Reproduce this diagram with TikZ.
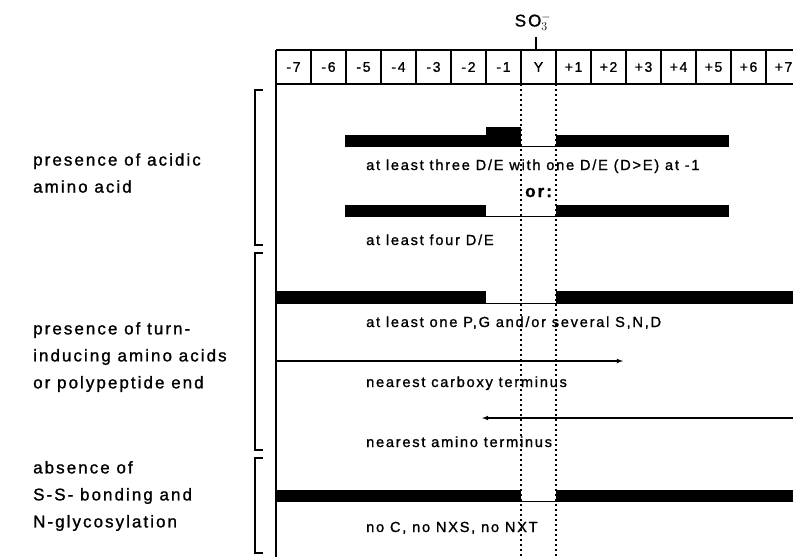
\documentclass[tikz,border=0pt]{standalone}
\usepackage{fontspec}
\setmainfont{Liberation Sans}
\newfontfamily\scanfont[LetterSpace=12,FakeBold=1.2]{Liberation Sans}

\begin{document}
\begin{tikzpicture}[x=1pt,y=-1pt]
    % Khung hình (toạ độ theo pixel)
    \useasboundingbox (0,0) rectangle (793,557);
    \clip (0,0) rectangle (793,557);

    % Kiểu nét
    \tikzset{
        c_frame/.style={line width=1.5pt},
        c_bar/.style={fill=black, draw=none},
        c_gap/.style={line width=1pt},
        c_dot/.style={line width=1.8pt, dash pattern=on 1.8pt off 3.2pt},
        c_arrow/.style={line width=1.1pt, -latex},
        c_txt/.style={font=\scanfont\fontsize{14.6}{16}\selectfont, anchor=base west, inner sep=0pt},
        c_lbl/.style={font=\scanfont\fontsize{17}{27}\selectfont, align=left, anchor=west, inner sep=0pt},
        c_cell/.style={font=\scanfont\fontsize{14}{14}\selectfont, inner sep=0pt}
    }

    % Hai cột chấm của vị trí Y
    \coordinate (YL) at (521,84);
    \coordinate (YR) at (556,84);
    \coordinate (YL_end) at (521,557);
    \coordinate (YR_end) at (556,557);

    % Hàng tiêu đề vị trí -7 ... +7
    \draw[c_frame] (276,50) -- (793,50);
    \draw[c_frame] (276,84) -- (793,84);
    \foreach \i in {0,...,14} {
        \draw[c_frame] ({276+35*\i},50) -- ({276+35*\i},84);
    }
    \foreach \lab [count=\i from 0] in {-7,-6,-5,-4,-3,-2,-1,Y,+1,+2,+3,+4,+5,+6,+7} {
        \node[c_cell] (h\i) at ({293.5+35*\i},67) {\lab};
    }

    % Nhóm sulfat trên Y
    \node[c_cell, font=\scanfont\fontsize{17}{17}\selectfont] (so3) at (533,22) {SO$_3^-$};
    \coordinate (so3_tick) at (536,50);
    \draw[c_frame] (536,37) -- (so3_tick);

    % Đường khung trái
    \draw[c_frame] (276,84) -- (276,557);

    % Ngoặc nhóm bên trái
    \foreach \ya/\yb in {90/245, 253/450, 458/553} {
        \draw[c_frame] (263,\ya) -- (255,\ya) -- (255,\yb) -- (263,\yb);
    }

    % Đường chấm
    \draw[c_dot] (YL) -- (YL_end);
    \draw[c_dot] (YR) -- (YR_end);

    % Thanh 1: ít nhất ba D/E, một D/E ở -1
    \fill[c_bar] (345,135) rectangle (486,147);
    \fill[c_bar] (486,127) rectangle (521,147);
    \fill[c_bar] (556,135) rectangle (729,147);
    \draw[c_gap] (521,146.5) -- (556,146.5);

    % Thanh 2: ít nhất bốn D/E
    \fill[c_bar] (345,205) rectangle (486,217);
    \fill[c_bar] (556,205) rectangle (729,217);
    \draw[c_gap] (486,216.5) -- (556,216.5);

    % Thanh 3: P,G hoặc S,N,D
    \fill[c_bar] (276,291) rectangle (486,304);
    \fill[c_bar] (556,291) rectangle (793,304);
    \draw[c_gap] (486,303.5) -- (556,303.5);

    % Thanh 4: không có C, NXS, NXT
    \fill[c_bar] (276,490) rectangle (521,502);
    \fill[c_bar] (556,490) rectangle (793,502);
    \draw[c_gap] (521,501.5) -- (556,501.5);

    % Mũi tên đầu C và đầu N
    \coordinate (ca_start) at (276,361);
    \coordinate (ca_end) at (623,361);
    \coordinate (na_start) at (793,418);
    \coordinate (na_end) at (482,418);
    \draw[c_arrow] (ca_start) -- (ca_end);
    \draw[c_arrow] (na_start) -- (na_end);

    % Chữ giữa hình
    \node[c_txt] (t_three) at (366,170) {at least three D/E with one D/E (D>E) at -1};
    \node[c_txt, font=\scanfont\bfseries\fontsize{17}{17}\selectfont] (t_or) at (525,197) {or:};
    \node[c_txt] (t_four) at (366,245) {at least four D/E};
    \node[c_txt] (t_turn) at (366,327) {at least one P,G and/or several S,N,D};
    \node[c_txt] (t_cterm) at (366,387) {nearest carboxy terminus};
    \node[c_txt] (t_nterm) at (366,447) {nearest amino terminus};
    \node[c_txt] (t_noc) at (366,532) {no C, no NXS, no NXT};

    % Nhãn bên trái
    \node[c_lbl] (l_acid) at (33,173) {presence of acidic\\amino acid};
    \node[c_lbl] (l_turn) at (33,357) {presence of turn-\\inducing amino acids\\or polypeptide end};
    \node[c_lbl] (l_ss) at (33,496) {absence of\\S-S- bonding and\\N-glycosylation};
\end{tikzpicture}
\end{document}
